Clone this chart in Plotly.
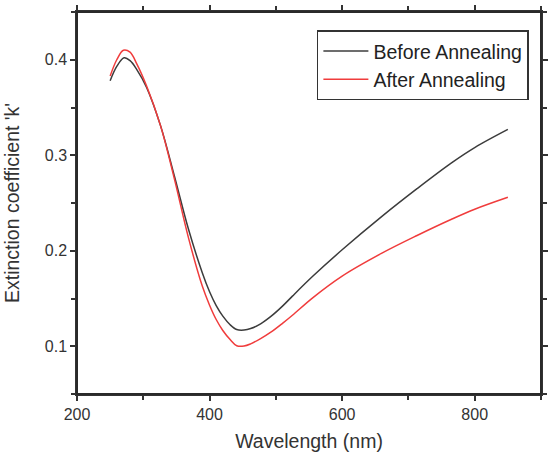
import plotly.graph_objects as go

wl_before = [250, 260, 271, 280, 290, 305, 326, 347, 368, 389, 400, 410, 420, 431, 441, 452, 462, 477, 493, 510, 525, 556, 600, 660, 713, 765, 800, 850]
k_before = [0.378, 0.393, 0.402, 0.399, 0.390, 0.371, 0.331, 0.278, 0.223, 0.177, 0.157, 0.1425, 0.1315, 0.1225, 0.1175, 0.117, 0.1185, 0.1235, 0.1315, 0.142, 0.1525, 0.1735, 0.201, 0.236, 0.265, 0.292, 0.308, 0.327]

wl_after = [250, 260, 270, 280, 290, 305, 326, 347, 368, 389, 400, 410, 420, 431, 441, 452, 462, 477, 493, 510, 525, 556, 600, 660, 713, 765, 800, 850]
k_after = [0.383, 0.400, 0.410, 0.408, 0.396, 0.3725, 0.331, 0.275, 0.214, 0.163, 0.143, 0.128, 0.1165, 0.1070, 0.1005, 0.1002, 0.1025, 0.108, 0.115, 0.124, 0.1325, 0.151, 0.1735, 0.1975, 0.216, 0.233, 0.2435, 0.256]

x_ticks = [200, 400, 600, 800]
y_ticks = [0.1, 0.2, 0.3, 0.4]

FONT = "Liberation Sans, Arial, sans-serif"
AX = "#333333"

fig = go.Figure()
fig.add_trace(go.Scatter(x=wl_before, y=k_before, mode="lines", name="Before Annealing",
                         line=dict(color="#3c3c3c", width=1.5, shape="spline", smoothing=1.0)))
fig.add_trace(go.Scatter(x=wl_after, y=k_after, mode="lines", name="After Annealing",
                         line=dict(color="#f03c3c", width=1.5, shape="spline", smoothing=1.0)))

# frame around the plotting area (top and right edges)
fig.add_shape(type="rect", xref="paper", yref="paper", x0=0, x1=1, y0=0, y1=1,
              line=dict(color="#2a2a2a", width=2), fillcolor="rgba(0,0,0,0)", layer="above")

fig.update_layout(
    width=553, height=456,
    margin=dict(l=77, r=5, t=7, b=62),
    plot_bgcolor="white", paper_bgcolor="white",
    font=dict(family=FONT, color=AX, size=16),
    showlegend=True,
    legend=dict(x=0.517, y=0.952, xanchor="left", yanchor="top",
                bordercolor=AX, borderwidth=1.5, bgcolor="rgba(255,255,255,0)",
                font=dict(size=19.5, family=FONT, color="#222222"),
                itemwidth=45, tracegroupgap=0),
    xaxis=dict(range=[200, 900], tickvals=x_ticks, ticktext=[str(v) for v in x_ticks],
               showgrid=False, zeroline=False, showline=True, linecolor=AX, linewidth=1.5,
               mirror="ticks",
               ticks="outside", ticklen=5, tickwidth=1.5, tickcolor=AX,
               minor=dict(dtick=100, tick0=0, ticks="outside", ticklen=4, tickwidth=1.5, tickcolor=AX),
               tickfont=dict(size=16),
               title=dict(text="Wavelength (nm)", font=dict(size=19.5), standoff=12)),
    yaxis=dict(range=[0.05, 0.45], tickvals=y_ticks, ticktext=[f"{v:.1f}" for v in y_ticks],
               showgrid=False, zeroline=False, showline=True, linecolor=AX, linewidth=1.5,
               mirror="ticks",
               ticks="outside", ticklen=5, tickwidth=1.5, tickcolor=AX,
               minor=dict(dtick=0.05, tick0=0, ticks="outside", ticklen=4, tickwidth=1.5, tickcolor=AX),
               tickfont=dict(size=16),
               title=dict(text="Extinction coefficient 'k'", font=dict(size=19.5), standoff=20)),
)

fig.write_html("out.html")
